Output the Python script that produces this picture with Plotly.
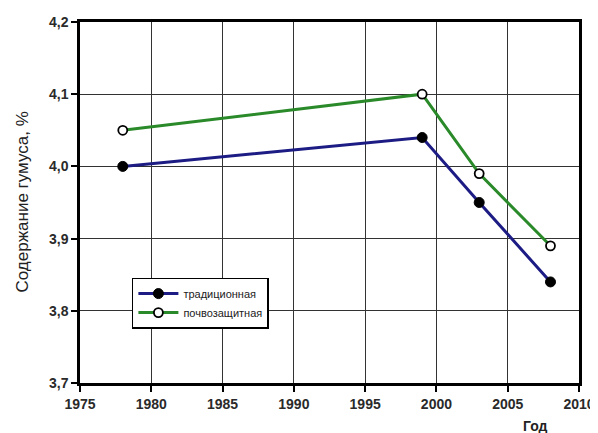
import plotly.graph_objects as go

years = [1978, 1999, 2003, 2008]
traditional = [4.00, 4.04, 3.95, 3.84]
soil_protective = [4.05, 4.10, 3.99, 3.89]
series_names = ["традиционная", "почвозащитная"]
x_ticks = [1975, 1980, 1985, 1990, 1995, 2000, 2005, 2010]
y_ticks = [3.7, 3.8, 3.9, 4.0, 4.1, 4.2]
y_tick_labels = ["3,7", "3,8", "3,9", "4,0", "4,1", "4,2"]

fig = go.Figure()
fig.add_trace(go.Scatter(
    x=years, y=traditional, name=series_names[0], mode="lines+markers",
    line=dict(color="#1c1c84", width=3),
    marker=dict(symbol="circle", size=10, color="black", line=dict(color="black", width=1)),
))
fig.add_trace(go.Scatter(
    x=years, y=soil_protective, name=series_names[1], mode="lines+markers",
    line=dict(color="#2a8a2a", width=3),
    marker=dict(symbol="circle", size=9, color="white", line=dict(color="black", width=1.8)),
))

font_family = "Liberation Sans, Arial, sans-serif"
# page body has an 8px default margin; plot area placed to land at x 80..579, y 22..383
fig.update_layout(
    width=598, height=433,
    margin=dict(l=72, r=27, t=14, b=58, autoexpand=False),
    paper_bgcolor="white", plot_bgcolor="white",
    font=dict(family=font_family, color="#222222"),
    showlegend=True,
    legend=dict(
        x=0.104, y=0.292, xanchor="left", yanchor="top",
        bordercolor="black", borderwidth=1.5, bgcolor="white",
        font=dict(size=11, family=font_family, color="#222222"),
        itemwidth=40, tracegroupgap=0, entrywidth=150,
    ),
    xaxis=dict(
        range=[1975, 2010], tickvals=x_ticks, ticktext=[str(v) for v in x_ticks],
        showgrid=True, gridcolor="#333333", gridwidth=1,
        showline=True, linecolor="black", linewidth=2.5, mirror=True,
        ticks="outside", ticklen=6, tickcolor="black", tickwidth=1.5,
        tickfont=dict(size=14, weight="bold", color="#2a2a2a"),
        zeroline=False, automargin=False,
    ),
    yaxis=dict(
        range=[3.7, 4.2], tickvals=y_ticks, ticktext=y_tick_labels,
        showgrid=True, gridcolor="#333333", gridwidth=1,
        showline=True, linecolor="black", linewidth=2.5, mirror=True,
        ticks="outside", ticklen=6, tickcolor="black", tickwidth=1.5,
        tickfont=dict(size=14, weight="bold", color="#2a2a2a"),
        zeroline=False, automargin=False,
    ),
    annotations=[
        dict(
            text="Год", x=0.912, y=-0.092, xref="paper", yref="paper",
            xanchor="center", yanchor="top", showarrow=False,
            font=dict(size=14, weight="bold", color="#222222"),
        ),
        dict(
            text="Содержание гумуса, %", x=(14 - 72) / 499, y=0.5, xref="paper", yref="paper",
            xanchor="center", yanchor="middle", showarrow=False, textangle=-90,
            font=dict(size=17, color="#222222"),
        ),
    ],
)

fig.write_html("out.html")
